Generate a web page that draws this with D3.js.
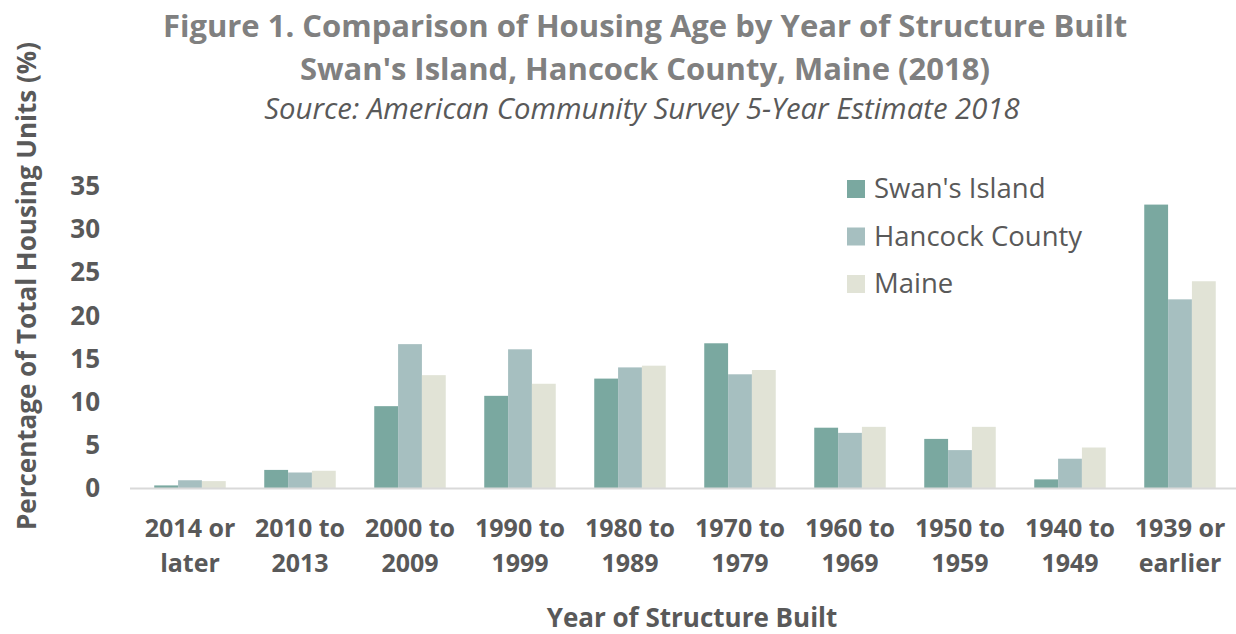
<!DOCTYPE html>
<html><head><meta charset="utf-8">
<script src="https://cdn.jsdelivr.net/npm/d3@7"></script>
<style>body{margin:0;background:#fff}svg{display:block}text{font-family:"Open Sans",sans-serif}</style>
</head><body><svg id="c" width="1236" height="634"></svg>
<script>
const categories = [["2014 or","later"],["2010 to","2013"],["2000 to","2009"],["1990 to","1999"],["1980 to","1989"],["1970 to","1979"],["1960 to","1969"],["1950 to","1959"],["1940 to","1949"],["1939 or","earlier"]];
const seriesNames = ["Swan's Island","Hancock County","Maine"];
const swansIsland = [0.3,2.1,9.5,10.7,12.7,16.8,7.0,5.7,1.0,32.9];
const hancockCounty = [0.9,1.8,16.7,16.1,14.0,13.2,6.4,4.4,3.4,21.9];
const maine = [0.8,2.0,13.1,12.1,14.2,13.7,7.1,7.1,4.7,24.0];
const yTicks = [0,5,10,15,20,25,30,35];
const colors = ["#7aa8a0","#a6bfc0","#e1e3d6"];

const svg = d3.select("#c");
const series = [swansIsland, hancockCounty, maine];
const keys = categories.map(c => c.join(" "));
const x = d3.scaleBand().domain(keys).range([135,1235]).paddingInner(0.35).paddingOuter(0.175);
const xs = d3.scaleBand().domain(d3.range(3)).range([0, x.bandwidth()]);
const y = d3.scaleLinear().domain([0,35]).range([488,186.5]);

series.forEach((vals, si) => {
  svg.append("g").selectAll("rect").data(vals).join("rect")
    .attr("x", (d,i) => x(keys[i]) + xs(si))
    .attr("width", xs.bandwidth())
    .attr("y", d => y(d))
    .attr("height", d => y(0) - y(d))
    .attr("fill", colors[si]);
});

svg.append("line").attr("x1",130).attr("x2",1236).attr("y1",y(0)+0.5).attr("y2",y(0)+0.5)
  .attr("stroke","#d9d9d9").attr("stroke-width",2);

const ya = svg.append("g").attr("transform","translate(100,0)")
  .call(d3.axisLeft(y).tickValues(yTicks).tickSize(0).tickPadding(0));
ya.select(".domain").remove();
ya.selectAll("text").attr("font-size",26).attr("font-weight","bold").attr("fill","#595959")
  .attr("font-family","'Open Sans',sans-serif");

const xa = svg.append("g").attr("transform",`translate(0,${y(0)})`)
  .call(d3.axisBottom(x).tickSize(0).tickFormat(() => ""));
xa.select(".domain").remove();
xa.selectAll(".tick").each(function(d,i){
  const t = d3.select(this).select("text").attr("y",0).attr("dy",null)
    .attr("font-size",25).attr("font-weight","bold").attr("fill","#595959")
    .attr("font-family","'Open Sans',sans-serif");
  categories[i].forEach((ln,j)=>t.append("tspan").attr("x",0).attr("y",48.5+j*35.5).text(ln));
});

svg.append("text").attr("x",692).attr("y",627).attr("text-anchor","middle")
  .attr("font-size",26).attr("font-weight","bold").attr("fill","#595959").text("Year of Structure Built");
svg.append("text").attr("transform","translate(36,286) rotate(-90)").attr("text-anchor","middle")
  .attr("font-size",26).attr("font-weight","bold").attr("fill","#595959").text("Percentage of Total Housing Units (%)");

svg.append("text").attr("x",645).attr("y",37).attr("text-anchor","middle")
  .attr("font-size",31).attr("font-weight","bold").attr("fill","#808080")
  .text("Figure 1. Comparison of Housing Age by Year of Structure Built");
svg.append("text").attr("x",645).attr("y",80).attr("text-anchor","middle")
  .attr("font-size",31).attr("font-weight","bold").attr("fill","#808080")
  .text("Swan's Island, Hancock County, Maine (2018)");
svg.append("text").attr("x",642).attr("y",119).attr("text-anchor","middle")
  .attr("font-size",29.3).attr("font-style","italic").attr("fill","#595959")
  .text("Source: American Community Survey 5-Year Estimate 2018");

const lg = svg.append("g").selectAll("g").data(seriesNames).join("g")
  .attr("transform",(d,i)=>`translate(847,${180+i*47.5})`);
lg.append("rect").attr("width",18).attr("height",18).attr("fill",(d,i)=>colors[i]);
lg.append("text").attr("x",27).attr("y",18).attr("font-size",27.5).attr("fill","#595959").text(d=>d);
</script></body></html>
